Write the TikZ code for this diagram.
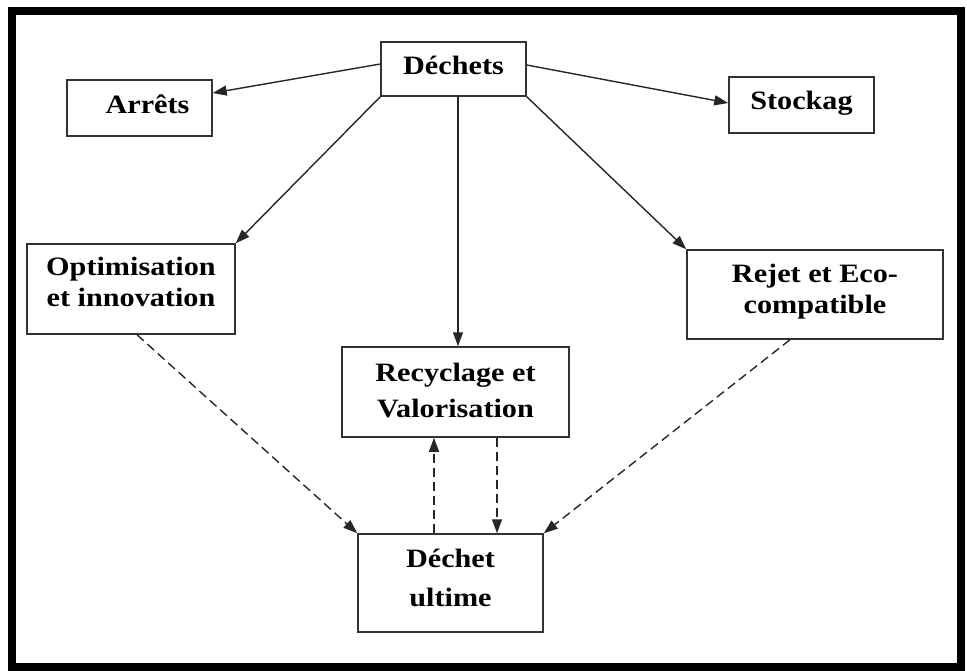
\documentclass[tikz,border=0pt]{standalone}
\usepackage{fontspec}
\setmainfont[FakeStretch=1.14]{Liberation Serif}
\usetikzlibrary{arrows.meta}
\newcommand{\bt}[3]{\hspace*{#1}\raisebox{#2}[\height][\depth]{\begin{tabular}{@{}c@{}}#3\end{tabular}}}
\begin{document}
\begin{tikzpicture}[x=1pt,y=-1pt,
  box/.style={draw=black!80, line width=1.5pt, inner sep=0pt, rectangle,
    font=\fontsize{26.5}{31}\selectfont\bfseries},
  arr/.style={draw=black!85, line width=1.4pt, -{Triangle[length=14pt,width=10pt]}},
  darr/.style={arr, dash pattern=on 9pt off 5pt}]
\useasboundingbox (0,0) rectangle (967,670);
\draw[line width=8pt] (12,11) rectangle (961,667);

\node[box, minimum width=145pt, minimum height=54pt] (dechets) at (453.5,69) {\bt{0pt}{1pt}{Déchets}};
\node[box, minimum width=145pt, minimum height=56pt] (arrets) at (139.5,108) {\bt{16pt}{1pt}{Arrêts}};
\node[box, minimum width=145pt, minimum height=56pt] (stock) at (801.5,105) {\bt{0pt}{2pt}{Stockag}};
\node[box, minimum width=208pt, minimum height=90pt] (optim) at (131,289) {\bt{0pt}{4pt}{Optimisation\\et innovation}};
\node[box, minimum width=256pt, minimum height=89pt] (rejet) at (815,294.5) {\bt{0pt}{2.5pt}{Rejet et Eco-\\compatible}};
\node[box, minimum width=227pt, minimum height=90pt] (recyc) at (455.5,392) {\bt{0pt}{-1pt}{Recyclage et\\[5pt]Valorisation}};
\node[box, minimum width=185pt, minimum height=98pt] (ultime) at (450.5,583) {\bt{0pt}{2pt}{Déchet\\[8pt]ultime}};

\draw[arr] ([yshift=5pt]dechets.west) -- ([yshift=15pt]arrets.east);
\draw[arr] ([yshift=4pt]dechets.east) -- ([yshift=2pt]stock.west);
\draw[arr] (dechets.south west) -- (optim.north east);
\draw[arr] ([xshift=4.5pt]dechets.south) -- ([xshift=2.5pt]recyc.north);
\draw[arr] (dechets.south east) -- (rejet.north west);

\draw[darr] ([xshift=6pt]optim.south) -- (ultime.north west);
\draw[darr] ([xshift=-25pt]rejet.south) -- (ultime.north east);
\draw[darr] ([xshift=-16.5pt]ultime.north) -- ([xshift=-21.5pt]recyc.south);
\draw[darr] ([xshift=41.5pt]recyc.south) -- ([xshift=46.5pt]ultime.north);
\end{tikzpicture}
\end{document}
